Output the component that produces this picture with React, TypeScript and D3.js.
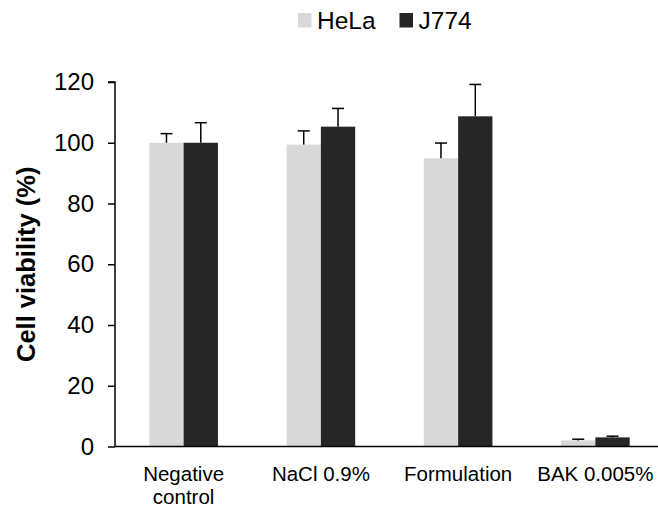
import * as d3 from "d3";
import { useEffect, useRef } from "react";

const categories = ["Negative control", "NaCl 0.9%", "Formulation", "BAK 0.005%"];
const seriesNames = ["HeLa", "J774"];
const helaValues = [100, 99.4, 94.9, 2.0];
const helaErrors = [3, 4.5, 5, 0.4];
const j774Values = [100, 105.3, 108.7, 3.0];
const j774Errors = [6.6, 6, 10.5, 0.4];
const yTicks = [0, 20, 40, 60, 80, 100, 120];

const colors = ["#d9d9d9", "#262626"];

const App = () => {
  const ref = useRef<SVGSVGElement>(null);

  useEffect(() => {
    const width = 658;
    const height = 509;
    const margin = { top: 82, right: -6, bottom: 62.5, left: 115 };

    const svg = d3.select(ref.current);
    svg.selectAll("*").remove();
    svg.attr("width", width).attr("height", height);

    const font = "Liberation Sans, Arial, sans-serif";

    // x band for categories, inner band for series
    const x0 = d3
      .scaleBand()
      .domain(categories)
      .range([margin.left, width - margin.right])
      .paddingInner(0)
      .paddingOuter(0);

    const x1 = d3
      .scaleBand()
      .domain(seriesNames)
      .range([0, x0.bandwidth()])
      .paddingInner(0)
      .paddingOuter(1);

    const y = d3
      .scaleLinear()
      .domain([0, 120])
      .range([height - margin.bottom, margin.top]);

    const data = categories.map((c, i) => ({
      cat: c,
      vals: [
        { s: "HeLa", v: helaValues[i], e: helaErrors[i], color: colors[0] },
        { s: "J774", v: j774Values[i], e: j774Errors[i], color: colors[1] },
      ],
    }));

    // bars
    const groups = svg
      .append("g")
      .selectAll("g")
      .data(data)
      .enter()
      .append("g")
      .attr("transform", (d) => `translate(${x0(d.cat)},0)`);

    groups
      .selectAll("rect")
      .data((d) => d.vals)
      .enter()
      .append("rect")
      .attr("x", (d) => x1(d.s)!)
      .attr("y", (d) => y(d.v))
      .attr("width", x1.bandwidth())
      .attr("height", (d) => y(0) - y(d.v))
      .attr("fill", (d) => d.color);

    // error bars (upper only)
    const err = groups
      .selectAll("g.err")
      .data((d) => d.vals)
      .enter()
      .append("g")
      .attr("class", "err")
      .attr("stroke", "#000")
      .attr("stroke-width", 1.5);

    err
      .append("line")
      .attr("x1", (d) => x1(d.s)! + x1.bandwidth() / 2)
      .attr("x2", (d) => x1(d.s)! + x1.bandwidth() / 2)
      .attr("y1", (d) => y(d.v))
      .attr("y2", (d) => y(d.v + d.e));

    err
      .append("line")
      .attr("x1", (d) => x1(d.s)! + x1.bandwidth() / 2 - 6)
      .attr("x2", (d) => x1(d.s)! + x1.bandwidth() / 2 + 6)
      .attr("y1", (d) => y(d.v + d.e))
      .attr("y2", (d) => y(d.v + d.e));

    // y axis
    const yAxis = svg
      .append("g")
      .attr("transform", `translate(${margin.left},0)`)
      .call(d3.axisLeft(y).tickValues(yTicks).tickSize(7).tickPadding(14));
    yAxis.select(".domain").attr("stroke", "#000").attr("stroke-width", 1.5).attr("d", `M-7,${y(120)}H0V${y(0)}`);
    yAxis.selectAll(".tick line").attr("stroke", "#000").attr("stroke-width", 1.5);
    yAxis
      .selectAll("text")
      .attr("font-family", font)
      .attr("font-size", 24)
      .attr("fill", "#000");

    // x axis line
    svg
      .append("line")
      .attr("x1", margin.left)
      .attr("x2", width)
      .attr("y1", y(0))
      .attr("y2", y(0))
      .attr("stroke", "#000")
      .attr("stroke-width", 1.5);

    // category labels
    const labels = svg
      .append("g")
      .selectAll("text")
      .data(categories)
      .enter()
      .append("text")
      .attr("x", (d) => x0(d)! + x0.bandwidth() / 2)
      .attr("y", 481)
      .attr("text-anchor", "middle")
      .attr("font-family", font)
      .attr("font-size", 20.5)
      .attr("fill", "#000");
    labels.each(function (d) {
      const t = d3.select(this);
      const parts = d === "Negative control" ? ["Negative", "control"] : [d];
      parts.forEach((p, i) => {
        t.append("tspan")
          .attr("x", x0(d)! + x0.bandwidth() / 2)
          .attr("dy", i === 0 ? 0 : 23)
          .text(p);
      });
    });

    // y title
    svg
      .append("text")
      .attr("transform", `translate(35,${(y(0) + y(120)) / 2}) rotate(-90)`)
      .attr("text-anchor", "middle")
      .attr("font-family", font)
      .attr("font-weight", "bold")
      .attr("font-size", 25.5)
      .attr("fill", "#000")
      .text("Cell viability (%)");

    // legend
    const legendX = [298, 399.5];
    const legend = svg
      .append("g")
      .selectAll("g")
      .data(seriesNames)
      .enter()
      .append("g")
      .attr("transform", (d, i) => `translate(${legendX[i]},13)`);
    legend
      .append("rect")
      .attr("width", 13.5)
      .attr("height", 14.5)
      .attr("fill", (d, i) => colors[i]);
    legend
      .append("text")
      .attr("x", 19)
      .attr("y", 15.5)
      .attr("font-family", font)
      .attr("font-size", 24.5)
      .attr("fill", "#000")
      .text((d) => d);
  }, []);

  return (
    <div style={{ position: "absolute", left: 0, top: 0 }}>
      <svg ref={ref} style={{ display: "block", background: "#fff" }} />
    </div>
  );
};

export default App;
